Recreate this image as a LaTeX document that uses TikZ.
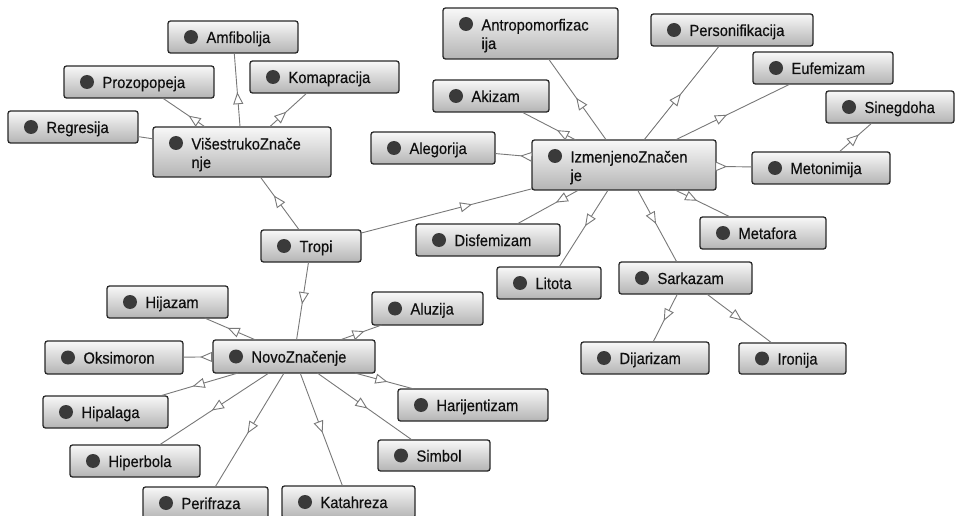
\documentclass[tikz,border=0pt]{standalone}
\usepackage{fontspec}
\setmainfont{Liberation Sans}
\newfontfamily\lblfont[FakeStretch=0.92,FakeBold=0.35]{Liberation Sans}
\usetikzlibrary{arrows.meta,decorations.markings}
\definecolor{boxline}{RGB}{40,40,40}
\definecolor{boxtop}{RGB}{248,248,248}
\definecolor{boxbot}{RGB}{180,180,180}
\definecolor{bulletc}{RGB}{58,58,58}
\definecolor{edgec}{RGB}{120,120,120}
\definecolor{txt}{RGB}{15,15,15}
\tikzset{
  clsbox/.style={draw=boxline, line width=1.3pt, rounded corners=2.5pt,
    top color=boxtop, bottom color=boxbot, inner sep=0pt, outer sep=0pt},
  lbl/.style={inner sep=0pt, outer sep=0pt, text=txt, font=\lblfont\fontsize{16}{18}\selectfont},
  bul/.style={fill=bulletc},
  conn/.style={draw, color=edgec, line width=0.9pt},
  connat/.style={conn, postaction={decorate},
    decoration={markings, mark=at position #1 with
      {\arrow{Triangle[fill=white,length=12pt,width=10pt]}}}},
}
\newcommand\mkcls[6]{%
  \node[clsbox, minimum width={#4-#2}, minimum height={#5-#3}] (#1) at ({(#2+#4)/2},{(#3+#5)/2}) {};
  \fill[bul] ([xshift=23pt]#1.west) circle[radius=7pt];
  \node[lbl, anchor=base west] at ([xshift=38.5pt,yshift=-6pt]#1.west) {#6};
}
\newcommand\mkclstwo[7]{%
  \node[clsbox, minimum width={#4-#2}, minimum height={#5-#3}] (#1) at ({(#2+#4)/2},{(#3+#5)/2}) {};
  \fill[bul] ([xshift=23pt,yshift=-16pt]#1.north west) circle[radius=7pt];
  \node[lbl, anchor=base west] at ([xshift=38.5pt,yshift=-22.5pt]#1.north west) {#6};
  \node[lbl, anchor=base west] at ([xshift=38.5pt,yshift=-41pt]#1.north west) {#7};
}
\begin{document}
\begin{tikzpicture}[x=1pt,y=-1pt]
\useasboundingbox (0,0) rectangle (962,516);
% classes
\mkcls{amf}{168}{21}{298}{53}{Amfibolija}
\mkcls{proz}{64}{66}{214}{98}{Prozopopeja}
\mkcls{kom}{250}{61}{399}{93}{Komapracija}
\mkcls{reg}{8}{111}{138}{143}{Regresija}
\mkclstwo{vis}{153}{127}{331}{177}{VišestrukoZnače}{nje}
\mkcls{tropi}{261}{230}{361}{262}{Tropi}
\mkclstwo{antr}{443}{8}{618}{59}{Antropomorfizac}{ija}
\mkcls{akiz}{433}{80}{549}{112}{Akizam}
\mkcls{aleg}{371}{132}{495}{164}{Alegorija}
\mkclstwo{izm}{532}{140}{716}{190}{IzmenjenoZnačen}{je}
\mkcls{pers}{651}{14}{813}{46}{Personifikacija}
\mkcls{euf}{753}{52}{893}{84}{Eufemizam}
\mkcls{sineg}{826}{91}{954}{123}{Sinegdoha}
\mkcls{meton}{752}{152}{890}{184}{Metonimija}
\mkcls{metaf}{700}{217}{826}{249}{Metafora}
\mkcls{disf}{416}{224}{560}{256}{Disfemizam}
\mkcls{lit}{497}{267}{601}{299}{Litota}
\mkcls{sark}{619}{262}{752}{294}{Sarkazam}
\mkcls{dijar}{581}{342}{709}{374}{Dijarizam}
\mkcls{iron}{739}{343}{846}{374}{Ironija}
\mkcls{hij}{107}{286}{228}{318}{Hijazam}
\mkcls{oks}{45}{341}{183}{374}{Oksimoron}
\mkcls{novo}{213}{340}{375}{373}{NovoZnačenje}
\mkcls{hipal}{43}{396}{168}{428}{Hipalaga}
\mkcls{hiperb}{70}{445}{200}{477}{Hiperbola}
\mkcls{perif}{143}{487}{268}{519}{Perifraza}
\mkcls{katah}{282}{486}{415}{518}{Katahreza}
\mkcls{aluz}{372}{292}{483}{325}{Aluzija}
\mkcls{harij}{398}{389}{548}{421}{Harijentizam}
\mkcls{simb}{378}{440}{490}{471}{Simbol}
% connectors (parent -> child)
\draw[connat=0.47] (vis) -- (amf);
\draw[connat=0.39] (vis) -- (proz);
\draw[connat=0.45] (vis) -- (kom);
\draw[conn] (vis) -- (reg);
\draw[connat=0.65] (tropi) -- (vis);
\draw[connat=0.65] (tropi) -- (izm);
\draw[connat=0.54] (tropi) -- (novo);
\draw[connat=0.52] (izm) -- (antr);
\draw[connat=0.35] (izm) -- (akiz);
\draw[connat=0.32] (izm) -- (aleg);
\draw[connat=0.49] (izm) -- (pers);
\draw[connat=0.45] (izm) -- (euf);
\draw[connat=0.31] (izm) -- (meton);
\draw[connat=0.60] (meton) -- (sineg);
\draw[connat=0.40] (izm) -- (metaf);
\draw[connat=0.37] (izm) -- (disf);
\draw[connat=0.47] (izm) -- (lit);
\draw[connat=0.47] (izm) -- (sark);
\draw[connat=0.56] (sark) -- (dijar);
\draw[connat=0.54] (sark) -- (iron);
\draw[connat=0.55] (novo) -- (hij);
\draw[connat=0.43] (novo) -- (oks);
\draw[connat=0.58] (novo) -- (hipal);
\draw[connat=0.52] (novo) -- (hiperb);
\draw[connat=0.53] (novo) -- (perif);
\draw[connat=0.53] (novo) -- (katah);
\draw[connat=0.53] (novo) -- (simb);
\draw[connat=0.55] (novo) -- (harij);
\draw[connat=0.59] (novo) -- (aluz);
\end{tikzpicture}
\end{document}
